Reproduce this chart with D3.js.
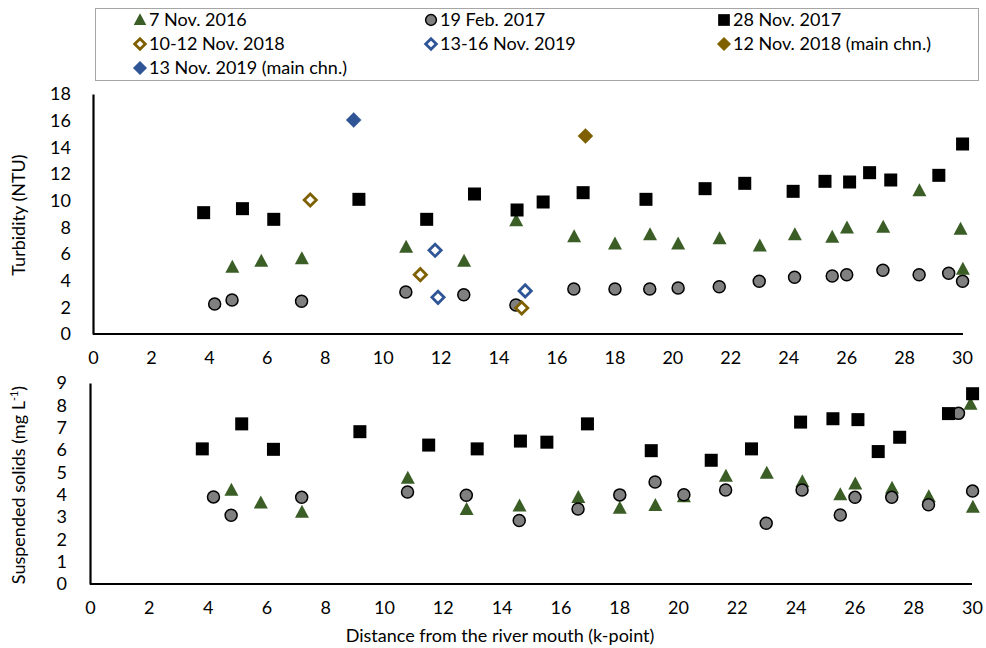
<!DOCTYPE html>
<html><head><meta charset="utf-8">
<script src="https://cdn.jsdelivr.net/npm/d3@7"></script>
<style>body{margin:0;background:#fff}svg{display:block}text{font-family:Lato,"Open Sans",sans-serif;fill:#000}</style>
</head><body><svg id="c" width="986" height="648"></svg>
<script>
// ---- Data ----
const xTicks = [0,2,4,6,8,10,12,14,16,18,20,22,24,26,28,30];
const turbTicks = [0,2,4,6,8,10,12,14,16,18];
const ssTicks = [0,1,2,3,4,5,6,7,8,9];

// 7 Nov. 2016 (triangles)
const triDist = [4.81,5.81,7.21,10.81,12.81,14.61,16.61,18.02,19.23,20.2,21.63,23.02,24.23,25.52,26.03,27.28,28.53,29.95,30.03];
const triTurb = [5.0,5.45,5.65,6.5,5.45,8.5,7.3,6.75,7.45,6.75,7.15,6.6,7.45,7.25,7.95,8.0,10.75,7.85,4.85];
const triSS   = [4.2,3.63,3.21,4.73,3.33,3.49,3.87,3.39,3.51,3.91,4.82,4.96,4.58,4.0,4.48,4.29,3.91,8.05,3.43];

// 19 Feb. 2017 (circles)
const cirDist = [4.2,4.8,7.2,10.8,12.8,14.6,16.6,18.02,19.22,20.2,21.62,23.0,24.22,25.52,26.02,27.27,28.52,29.54,30.02];
const cirTurb = [2.25,2.55,2.45,3.15,2.95,2.18,3.38,3.38,3.38,3.45,3.55,3.95,4.25,4.35,4.45,4.78,4.45,4.55,3.95];
const cirSS   = [3.9,3.08,3.88,4.12,3.97,2.84,3.36,3.99,4.57,4.0,4.21,2.72,4.21,3.09,3.88,3.88,3.55,7.64,4.16];

// 28 Nov. 2017 (squares)
const sqDist = [3.82,5.16,6.24,9.18,11.52,13.17,14.64,15.54,16.92,19.09,21.13,22.5,24.17,25.27,26.12,26.81,27.54,29.2,30.02];
const sqTurb = [9.1,9.4,8.6,10.1,8.6,10.5,9.3,9.9,10.6,10.1,10.9,11.3,10.7,11.45,11.4,12.1,11.55,11.9,14.25];
const sqSS   = [6.05,7.17,6.03,6.82,6.22,6.05,6.4,6.35,7.17,5.97,5.54,6.05,7.25,7.4,7.36,5.93,6.57,7.63,8.52];

// 10-12 Nov. 2018 (hollow gold diamonds) - turbidity only
const g18Dist = [7.5,11.3,14.8];
const g18Turb = [10.05,4.45,1.95];
// 13-16 Nov. 2019 (hollow blue diamonds)
const b19Dist = [11.81,11.91,14.92];
const b19Turb = [6.28,2.75,3.23];
// 12 Nov. 2018 (main chn.)
const g18mDist = [17.0];
const g18mTurb = [14.85];
// 13 Nov. 2019 (main chn.)
const b19mDist = [9.0];
const b19mTurb = [16.05];

const legendLabels = ["7 Nov. 2016","19 Feb. 2017","28 Nov. 2017","10-12 Nov. 2018","13-16 Nov. 2019","12 Nov. 2018 (main chn.)","13 Nov. 2019 (main chn.)"];

// ---- Styles ----
const GREEN="#3b5e26", GREY="#808080", GOLD="#7f6000", BLUE="#2f5597";
const styles = [
  {type:"tri", fill:GREEN, stroke:"none"},
  {type:"cir", fill:GREY, stroke:"#000"},
  {type:"sq", fill:"#000", stroke:"none"},
  {type:"dia", fill:"#fff", stroke:GOLD},
  {type:"dia", fill:"#fff", stroke:BLUE},
  {type:"dia", fill:GOLD, stroke:GOLD},
  {type:"dia", fill:BLUE, stroke:BLUE}
];

const svg = d3.select("#c");
const FS = 18;

function drawMarker(g, st, x, y, scale=1){
  if(st.type==="tri"){
    const w=14*scale,h=13*scale;
    g.append("path").attr("d",`M${x},${y-h*0.58}L${x+w/2},${y+h*0.42}L${x-w/2},${y+h*0.42}Z`).attr("fill",st.fill);
  } else if(st.type==="cir"){
    g.append("circle").attr("cx",x).attr("cy",y).attr("r",6*scale).attr("fill",st.fill).attr("stroke",st.stroke).attr("stroke-width",1.5);
  } else if(st.type==="sq"){
    const s=13*scale;
    g.append("rect").attr("x",x-s/2).attr("y",y-s/2).attr("width",s).attr("height",s).attr("fill",st.fill);
  } else {
    const r=7.5*scale;
    const hollow = st.fill==="#fff";
    const rr = hollow ? r-1.4 : r;
    g.append("path").attr("d",`M${x},${y-rr}L${x+rr},${y}L${x},${y+rr}L${x-rr},${y}Z`)
      .attr("fill",st.fill).attr("stroke",st.stroke).attr("stroke-width",hollow?2.8:0.5);
  }
}

function panel(cfg){
  const x = d3.scaleLinear().domain([0,30]).range([cfg.x0,cfg.x1]);
  const y = d3.scaleLinear().domain([0,cfg.ymax]).range([cfg.y0,cfg.y1]);
  const g = svg.append("g");
  const xa = g.append("g").attr("transform",`translate(0,${cfg.y0})`)
    .call(d3.axisBottom(x).tickValues(xTicks).tickSize(0).tickPadding(17));
  xa.select(".domain").attr("stroke","#000").attr("stroke-width",2.2).attr("d",`M${cfg.x0},0H${cfg.xEnd}`);
  xa.selectAll("text").attr("font-size",FS).style("font-family","Lato");
  const ya = g.append("g").attr("transform",`translate(${cfg.x0},0)`)
    .call(d3.axisLeft(y).tickValues(cfg.yTicks).tickSize(0).tickPadding(cfg.ypad));
  ya.select(".domain").attr("stroke","#000").attr("stroke-width",2.2);
  ya.selectAll("text").attr("font-size",FS).style("font-family","Lato");
  cfg.series.forEach(s=>{
    s.dist.forEach((d,i)=>drawMarker(g, styles[s.style], x(d), y(s.vals[i])));
  });
}

panel({x0:93,x1:962,xEnd:963,y0:334,y1:94,ymax:18,yTicks:turbTicks,ypad:22,
  series:[
    {style:0,dist:triDist,vals:triTurb},
    {style:1,dist:cirDist,vals:cirTurb},
    {style:2,dist:sqDist,vals:sqTurb},
    {style:3,dist:g18Dist,vals:g18Turb},
    {style:4,dist:b19Dist,vals:b19Turb},
    {style:5,dist:g18mDist,vals:g18mTurb},
    {style:6,dist:b19mDist,vals:b19mTurb}
  ]});
panel({x0:90,x1:972,xEnd:972,y0:584,y1:383,ymax:9,yTicks:ssTicks,ypad:23,
  series:[
    {style:0,dist:triDist,vals:triSS},
    {style:1,dist:cirDist,vals:cirSS},
    {style:2,dist:sqDist,vals:sqSS}
  ]});

// axis titles
svg.append("text").attr("x",500).attr("y",642).attr("text-anchor","middle").attr("font-size",FS)
  .text("Distance from the river mouth (k-point)");
svg.append("text").attr("transform","translate(25,215) rotate(-90)").attr("text-anchor","middle").attr("font-size",FS)
  .text("Turbidity (NTU)");
const yt = svg.append("text").attr("transform","translate(25,485) rotate(-90)").attr("text-anchor","middle").attr("font-size",FS);
yt.append("tspan").text("Suspended solids (mg L");
yt.append("tspan").attr("font-size",11).attr("dy",-7).text("-1");
yt.append("tspan").attr("dy",7).text(")");

// legend
svg.append("rect").attr("x",95.5).attr("y",8.5).attr("width",883).attr("height",72).attr("fill","#fff").attr("stroke","#a6a6a6").attr("stroke-width",1);
const colX=[140,431,724], rowY=[20,44,68];
legendLabels.forEach((lab,i)=>{
  const cx=colX[i%3], cy=rowY[Math.floor(i/3)];
  const lg=svg.append("g");
  drawMarker(lg, styles[i], cx, cy, 0.9);
  lg.append("text").attr("x",cx+9).attr("y",cy+6).attr("font-size",FS).text(lab);
});
</script></body></html>
